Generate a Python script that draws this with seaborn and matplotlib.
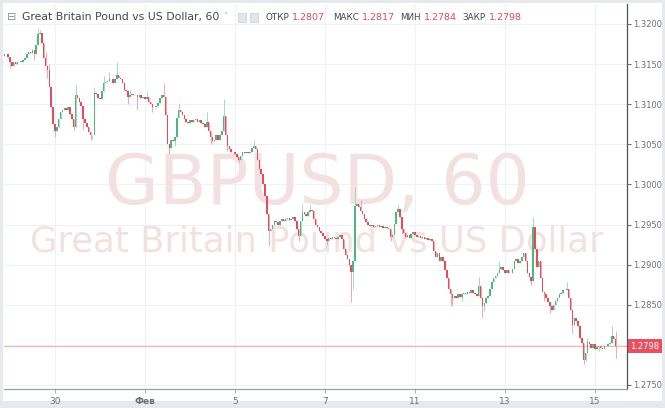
import numpy as np
import pandas as pd
import matplotlib
matplotlib.use("Agg")
import matplotlib.pyplot as plt
import matplotlib.transforms as mtransforms
from matplotlib.patches import Rectangle
import seaborn as sns

# ---------------- data ----------------
symbol_title = "Great Britain Pound vs US Dollar, 60"
watermark_1 = "GBPUSD, 60"
watermark_2 = "Great Britain Pound vs US Dollar"

first_open = 1.3160
closes = [
    1.3162, 1.3163, 1.3159, 1.3152, 1.3148, 1.3152, 1.3150, 1.3152, 1.3153, 1.3153,
    1.3155, 1.3158, 1.3162, 1.3165, 1.3164, 1.3167, 1.3162, 1.3174, 1.3188, 1.3189,
    1.3176, 1.3158, 1.3148, 1.3143, 1.3121, 1.3096, 1.3075, 1.3067, 1.3072, 1.3081,
    1.3090, 1.3093, 1.3095, 1.3093, 1.3096, 1.3088, 1.3081, 1.3072, 1.3111, 1.3108,
    1.3103, 1.3098, 1.3081, 1.3077, 1.3072, 1.3065, 1.3061, 1.3062, 1.3114, 1.3113,
    1.3108, 1.3106, 1.3117, 1.3126, 1.3128, 1.3129, 1.3132, 1.3131, 1.3127, 1.3131,
    1.3137, 1.3133, 1.3131, 1.3126, 1.3118, 1.3116, 1.3109, 1.3112, 1.3113, 1.3111,
    1.3112, 1.3109, 1.3111, 1.3108, 1.3109, 1.3106, 1.3109, 1.3103, 1.3100, 1.3097,
    1.3096, 1.3098, 1.3102, 1.3108, 1.3111, 1.3109, 1.3087, 1.3050, 1.3046, 1.3056,
    1.3054, 1.3059, 1.3083, 1.3093, 1.3090, 1.3086, 1.3081, 1.3078, 1.3076, 1.3080,
    1.3078, 1.3080, 1.3081, 1.3078, 1.3080, 1.3077, 1.3075, 1.3072, 1.3078, 1.3066,
    1.3059, 1.3054, 1.3056, 1.3061, 1.3056, 1.3062, 1.3066, 1.3085, 1.3062, 1.3048,
    1.3044, 1.3041, 1.3040, 1.3038, 1.3034, 1.3031, 1.3035, 1.3040, 1.3039, 1.3041,
    1.3039, 1.3040, 1.3045, 1.3048, 1.3044, 1.3031, 1.3019, 1.3013, 1.3000, 1.2985,
    1.2963, 1.2942, 1.2945, 1.2950, 1.2954, 1.2953, 1.2950, 1.2954, 1.2957, 1.2954,
    1.2957, 1.2958, 1.2956, 1.2957, 1.2959, 1.2954, 1.2945, 1.2936, 1.2954, 1.2966,
    1.2963, 1.2961, 1.2966, 1.2968, 1.2967, 1.2957, 1.2950, 1.2947, 1.2942, 1.2940,
    1.2936, 1.2932, 1.2930, 1.2933, 1.2932, 1.2935, 1.2933, 1.2932, 1.2935, 1.2937,
    1.2932, 1.2920, 1.2912, 1.2907, 1.2900, 1.2891, 1.2905, 1.2973, 1.2976, 1.2972,
    1.2967, 1.2963, 1.2957, 1.2953, 1.2950, 1.2948, 1.2950, 1.2947, 1.2948, 1.2950,
    1.2947, 1.2948, 1.2946, 1.2947, 1.2946, 1.2945, 1.2935, 1.2937, 1.2951, 1.2966,
    1.2969, 1.2959, 1.2945, 1.2940, 1.2935, 1.2937, 1.2933, 1.2938, 1.2941, 1.2937,
    1.2935, 1.2936, 1.2933, 1.2935, 1.2932, 1.2933, 1.2931, 1.2932, 1.2930, 1.2917,
    1.2910, 1.2914, 1.2905, 1.2910, 1.2905, 1.2893, 1.2883, 1.2870, 1.2863, 1.2858,
    1.2861, 1.2859, 1.2863, 1.2860, 1.2863, 1.2865, 1.2864, 1.2866, 1.2865, 1.2868,
    1.2865, 1.2863, 1.2861, 1.2874, 1.2858, 1.2848, 1.2852, 1.2858, 1.2861, 1.2870,
    1.2878, 1.2883, 1.2886, 1.2889, 1.2895, 1.2897, 1.2893, 1.2890, 1.2893, 1.2889,
    1.2890, 1.2895, 1.2905, 1.2907, 1.2902, 1.2905, 1.2910, 1.2914, 1.2905, 1.2889,
    1.2884, 1.2880, 1.2947, 1.2920, 1.2897, 1.2905, 1.2883, 1.2866, 1.2863, 1.2858,
    1.2854, 1.2848, 1.2844, 1.2850, 1.2855, 1.2858, 1.2863, 1.2865, 1.2868, 1.2869,
    1.2870, 1.2858, 1.2843, 1.2825, 1.2833, 1.2830, 1.2823, 1.2808, 1.2802, 1.2781,
    1.2790, 1.2803, 1.2801, 1.2796, 1.2801, 1.2795, 1.2797, 1.2798, 1.2796, 1.2795,
    1.2798, 1.2799, 1.2801, 1.2802, 1.2811, 1.2807, 1.2798,
]
# notable wicks (candle index -> extreme price)
wick_highs = {
    18: 1.3195, 19: 1.3192, 22: 1.3165, 24: 1.3150, 38: 1.3124, 48: 1.3122,
    53: 1.3135, 56: 1.3140, 60: 1.3152, 64: 1.3128, 67: 1.3118, 76: 1.3115,
    85: 1.3127, 93: 1.3102, 108: 1.3090, 117: 1.3106, 133: 1.3055, 159: 1.2975,
    163: 1.2976, 187: 1.2997, 190: 1.2980, 210: 1.2975, 235: 1.2900, 253: 1.2885,
    264: 1.2905, 282: 1.2959, 300: 1.2878, 311: 1.2808, 324: 1.2824, 326: 1.2817,
}
wick_lows = {
    3: 1.3145, 16: 1.3155, 23: 1.3133, 27: 1.3059, 29: 1.3070, 37: 1.3068,
    42: 1.3068, 46: 1.3055, 47: 1.3057, 66: 1.3100, 71: 1.3093, 79: 1.3090,
    88: 1.3038, 91: 1.3048, 110: 1.3050, 119: 1.3042, 125: 1.3028, 141: 1.2923,
    157: 1.2930, 172: 1.2925, 185: 1.2854, 186: 1.2870, 206: 1.2930, 212: 1.2938,
    238: 1.2850, 239: 1.2848, 244: 1.2855, 255: 1.2835, 256: 1.2842, 281: 1.2875,
    288: 1.2855, 291: 1.2840, 303: 1.2815, 309: 1.2776, 310: 1.2780, 317: 1.2792,
    326: 1.2784,
}
day_tick_index = [27, 75, 123, 171, 219, 267, 315]
day_tick_labels = ["30", "Фев", "5", "7", "11", "13", "15"]
price_ticks = [1.2750, 1.2800, 1.2850, 1.2900, 1.2950, 1.3000, 1.3050, 1.3100, 1.3150, 1.3200]
# the 1.2800 label is hidden under the last-price marker in the reference
price_tick_labels = ["1.2750", "", "1.2850", "1.2900", "1.2950",
                     "1.3000", "1.3050", "1.3100", "1.3150", "1.3200"]
ohlc_names = ["ОТКР", "МАКС", "МИН", "ЗАКР"]
ohlc_values = ["1.2807", "1.2817", "1.2784", "1.2798"]
last_price = 1.2798

# ---------------- build table ----------------
c = np.array(closes)
o = np.concatenate([[first_open], c[:-1]])
h = np.maximum(o, c)
l = np.minimum(o, c)
for k, v in wick_highs.items():
    h[k] = max(h[k], v)
for k, v in wick_lows.items():
    l[k] = min(l[k], v)
df = pd.DataFrame({"i": np.arange(len(c)), "open": o, "high": h, "low": l, "close": c})
df["up"] = df["close"] >= df["open"]

UP = "#4fb583"
DOWN = "#e84a5a"
UP_W = "#a6d8c0"
DOWN_W = "#f2a6ae"

sns.set_theme(style="white")
plt.rcParams['font.family'] = ['DejaVu Sans']

W, H = 665, 408
fig = plt.figure(figsize=(W / 100, H / 100), dpi=100, facecolor="#e6eaef")
fig.patches.append(Rectangle((3 / W, 1 - 401 / H), 659 / W, 398 / H,
                             transform=fig.transFigure, facecolor="white",
                             edgecolor="none", zorder=-5))

ax = fig.add_axes([4 / W, 1 - 389 / H, 623 / W, 385 / H])
ax.set_zorder(1)
ax.set_facecolor("white")
ax.set_axisbelow(True)

# watermark (inside axes so it sits behind candles)
ax.text((317 - 4) / 623, (389 - 204) / 385, watermark_1, transform=ax.transAxes,
        fontsize=50, color="#f3e1e1", ha="center", va="baseline", zorder=0.5)
ax.text((317 - 4) / 623, (389 - 251) / 385, watermark_2, transform=ax.transAxes,
        fontsize=25.5, color="#f3e1e1", ha="center", va="baseline", zorder=0.5)

# candles
body = (df["close"] - df["open"]).to_numpy()
min_h = 0.00004
body = np.where(np.abs(body) < min_h, min_h, body)
wcol = np.where(df["up"], UP_W, DOWN_W)
bcol = np.where(df["up"], UP, DOWN)
ax.vlines(df["i"], df["low"], df["high"], colors=wcol, linewidth=0.7, zorder=2)
ax.bar(df["i"], body, bottom=df["open"], width=0.8, color=bcol,
       linewidth=0, zorder=3)

ax.set_xlim(-0.2, 332.1)
ax.set_ylim(1.27450, 1.32249)

# grid
for x in day_tick_index:
    ax.axvline(x, color="#eef1f5", lw=0.8, zorder=0.2)
for y in price_ticks:
    ax.axhline(y, color="#eef1f5", lw=0.8, zorder=0.2)

# last price line
ax.axhline(last_price, color="#f4b3b9", lw=0.8, zorder=1.5)

# axes styling
for s in ["left", "top"]:
    ax.spines[s].set_visible(False)
ax.spines["right"].set_color("#50535e")
ax.spines["bottom"].set_color("#9aa0a8")
ax.spines["right"].set_linewidth(0.9)
ax.spines["bottom"].set_linewidth(0.9)
ax.yaxis.tick_right()
ax.set_yticks(price_ticks, price_tick_labels)
ax.set_xticks(day_tick_index, day_tick_labels)
ax.tick_params(axis="y", which="both", right=True, left=False, length=3, width=0.6,
               color="#50535e", labelsize=6, labelcolor="#6d6f75", pad=1.5)
ax.tick_params(axis="x", which="both", bottom=True, length=3, width=0.6,
               color="#9aa0a8", labelsize=6.5, labelcolor="#6d6f75", pad=2.5)
for t in ax.get_xticklabels():
    if t.get_text() == "Фев":
        t.set_fontweight("bold")

# last price label
trans = mtransforms.blended_transform_factory(ax.transAxes, ax.transData)
ax.text(1.0 + 3 / 623, last_price, f"{last_price:.4f}", transform=trans,
        ha="left", va="center", fontsize=6, color="white", zorder=10, clip_on=False,
        bbox=dict(boxstyle="square,pad=0.3", fc="#e8505f", ec="none"))

# header
hy = 1 - 17 / H
fig.text(7 / W, hy, "⊟", fontsize=8, color="#8b8e95", ha="left", va="center", zorder=5)
fig.text(22 / W, hy, symbol_title, fontsize=7.8, color="#43464d", ha="left", va="center", zorder=5)
fig.text(223 / W, hy, "˅", fontsize=6, color="#a0a3a8", ha="left", va="center", zorder=5)
for x0 in (238, 250):
    fig.patches.append(Rectangle((x0 / W, 1 - 21.5 / H), 8 / W, 8 / H,
                                 transform=fig.transFigure, facecolor="#e3e5e8",
                                 edgecolor="#c9ccd1", lw=0.5, zorder=5))
name_x = [265, 333, 400, 462]
val_x = [292, 362, 424, 489]
for nx, vx, nm, vv in zip(name_x, val_x, ohlc_names, ohlc_values):
    fig.text(nx / W, hy, nm, fontsize=6.3, color="#43464d", ha="left", va="center", zorder=5)
    fig.text(vx / W, hy, vv, fontsize=6.8, color="#d94a5e", ha="left", va="center", zorder=5)

fig.savefig("out.png", dpi=100, facecolor=fig.get_facecolor())
